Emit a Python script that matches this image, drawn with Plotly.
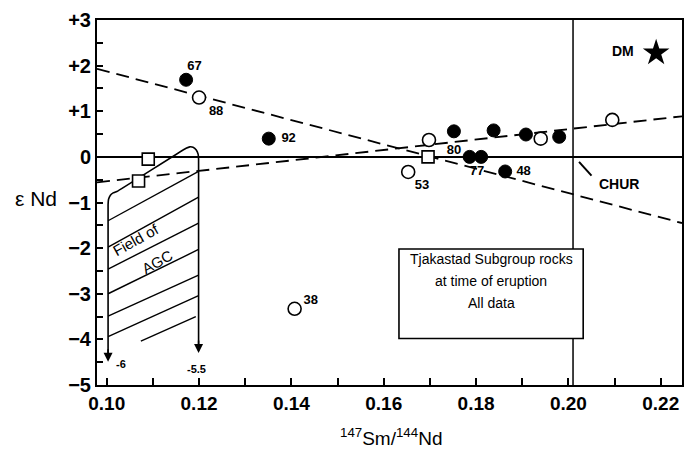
import plotly.graph_objects as go

# --- sample data: epsilon Nd vs 147Sm/144Nd ---
filled_x = [0.1172, 0.1351, 0.1752, 0.1786, 0.1811, 0.1838, 0.1863, 0.1908, 0.1980]
filled_y = [1.69, 0.40, 0.56, 0.00, 0.00, 0.58, -0.32, 0.49, 0.44]

open_x = [0.1200, 0.1407, 0.1653, 0.1698, 0.1940, 0.2095]
open_y = [1.30, -3.33, -0.33, 0.37, 0.40, 0.81]

square_x = [0.1069, 0.1090, 0.1696]
square_y = [-0.53, -0.05, 0.00]

dm_x = [0.2190]
dm_y = [2.28]

# sample numbers next to points
label_text = ["67", "88", "92", "80", "53", "77", "48", "38"]
label_x = [0.1190, 0.1237, 0.1394, 0.1752, 0.1683, 0.1802, 0.1903, 0.1442]
label_y = [1.97, 1.00, 0.40, 0.13, -0.64, -0.32, -0.32, -3.15]

# dashed reference lines
trend_down_x = [0.0979, 0.2246]
trend_down_y = [1.93, -1.45]
trend_up_x = [0.0979, 0.2246]
trend_up_y = [-0.56, 0.89]

# CHUR vertical reference
chur_sm_nd = 0.201

# field of AGC outline
agc_x = [0.1003, 0.1003, 0.1004, 0.1008, 0.1014, 0.1022, 0.1172, 0.1180,
         0.1187, 0.1194, 0.1198, 0.1199, 0.1199]
agc_y = [-4.40, -1.05, -0.93, -0.84, -0.79, -0.76, 0.19, 0.22,
         0.21, 0.15, 0.06, -0.05, -4.22]
# hatching inside the field
hatch_x0 = [0.1003, 0.1003, 0.1003, 0.1003, 0.1003, 0.1003, 0.1074]
hatch_y0 = [-1.40, -1.98, -2.46, -3.00, -3.49, -3.94, -4.04]
hatch_x1 = [0.1199, 0.1199, 0.1199, 0.1199, 0.1199, 0.1199, 0.1193]
hatch_y1 = [-0.32, -0.88, -1.45, -2.03, -2.59, -3.04, -3.50]

# axis ticks
x_ticks = [0.10, 0.11, 0.12, 0.13, 0.14, 0.15, 0.16, 0.17, 0.18, 0.19, 0.20, 0.21, 0.22]
x_ticktext = ["0.10", "", "0.12", "", "0.14", "", "0.16", "", "0.18", "", "0.20", "", "0.22"]
y_ticks = [-5, -4.5, -4, -3.5, -3, -2.5, -2, -1.5, -1, -0.5, 0, 0.5, 1, 1.5, 2, 2.5, 3]
y_ticktext = ["\u22125", "", "\u22124", "", "\u22123", "", "\u22122", "", "\u22121", "",
              "0", "", "+1", "", "+2", "", "+3"]

FONT = "Liberation Sans, Arial, sans-serif"
BLACK = "black"


def txt(size, bold=False):
    return dict(family=FONT, size=size, color=BLACK, weight="bold" if bold else "normal")


fig = go.Figure()

# field of AGC
fig.add_trace(go.Scatter(x=agc_x, y=agc_y, mode="lines",
                         line=dict(color=BLACK, width=1.6, shape="spline", smoothing=0.3),
                         hoverinfo="skip"))
for xa, ya, xb, yb in zip(hatch_x0, hatch_y0, hatch_x1, hatch_y1):
    fig.add_trace(go.Scatter(x=[xa, xb], y=[ya, yb], mode="lines",
                             line=dict(color=BLACK, width=1.4), hoverinfo="skip"))

# dashed lines
fig.add_trace(go.Scatter(x=trend_down_x, y=trend_down_y, mode="lines",
                         line=dict(color=BLACK, width=1.8, dash="13px,7px")))
fig.add_trace(go.Scatter(x=trend_up_x, y=trend_up_y, mode="lines",
                         line=dict(color=BLACK, width=1.8, dash="13px,7px")))

# CHUR pointer
fig.add_trace(go.Scatter(x=[0.2023, 0.2050], y=[-0.11, -0.41], mode="lines",
                         line=dict(color=BLACK, width=2)))

# symbols
fig.add_trace(go.Scatter(x=square_x, y=square_y, mode="markers",
                         marker=dict(symbol="square", size=12, color="white",
                                     line=dict(color=BLACK, width=1.6))))
fig.add_trace(go.Scatter(x=open_x, y=open_y, mode="markers",
                         marker=dict(symbol="circle", size=13, color="white",
                                     line=dict(color=BLACK, width=1.6))))
fig.add_trace(go.Scatter(x=filled_x, y=filled_y, mode="markers",
                         marker=dict(symbol="circle", size=13, color=BLACK,
                                     line=dict(color=BLACK, width=1))))
fig.add_trace(go.Scatter(x=dm_x, y=dm_y, mode="markers",
                         marker=dict(symbol="star", size=20, color=BLACK)))

# sample labels
fig.add_trace(go.Scatter(x=label_x, y=label_y, mode="text", text=label_text,
                         textfont=txt(13, True)))

shapes = [
    # zero line
    dict(type="line", xref="paper", yref="y", x0=0, x1=1, y0=0, y1=0,
         line=dict(color=BLACK, width=2), layer="below"),
    # CHUR Sm/Nd vertical
    dict(type="line", xref="x", yref="paper", x0=chur_sm_nd, x1=chur_sm_nd, y0=0, y1=1,
         line=dict(color=BLACK, width=1.5), layer="below"),
    # caption box
    dict(type="rect", xref="x", yref="y", x0=0.1633, x1=0.2032, y0=-3.98, y1=-2.02,
         fillcolor="white", line=dict(color=BLACK, width=1.6), layer="above"),
]

box_cx = (0.1633 + 0.2032) / 2
annotations = [
    dict(x=box_cx, y=-2.24, text="Tjakastad Subgroup rocks", showarrow=False, font=txt(14)),
    dict(x=box_cx, y=-2.72, text="at time of eruption", showarrow=False, font=txt(14)),
    dict(x=box_cx, y=-3.20, text="All data", showarrow=False, font=txt(14)),
    dict(x=0.2119, y=2.32, text="DM", showarrow=False, font=txt(14, True)),
    dict(x=0.2110, y=-0.60, text="CHUR", showarrow=False, font=txt(14, True)),
    dict(x=0.1064, y=-1.82, text="Field of", showarrow=False, textangle=-29, font=txt(15)),
    dict(x=0.1111, y=-2.30, text="AGC", showarrow=False, textangle=-29, font=txt(15)),
    dict(x=0.1032, y=-4.55, text="-6", showarrow=False, font=txt(11, True)),
    dict(x=0.1194, y=-4.64, text="-5.5", showarrow=False, font=txt(11, True)),
    # arrowheads at the bottom of the AGC field
    dict(x=0.1003, y=-4.49, ax=0, ay=-14, text="", showarrow=True,
         arrowhead=2, arrowsize=1.2, arrowwidth=1.5, arrowcolor=BLACK),
    dict(x=0.1199, y=-4.30, ax=0, ay=-14, text="", showarrow=True,
         arrowhead=2, arrowsize=1.2, arrowwidth=1.5, arrowcolor=BLACK),
    # axis titles
    dict(xref="paper", yref="paper", x=0.503, y=-0.142, xanchor="center", yanchor="middle",
         text="<sup>147</sup>Sm/<sup>144</sup>Nd", showarrow=False, font=txt(19)),
    dict(xref="paper", yref="paper", x=-0.104, y=0.512, xanchor="center", yanchor="middle",
         text="\u03b5 Nd", showarrow=False, font=txt(21)),
]

fig.update_layout(
    width=691, height=450,
    margin=dict(l=97, r=7, t=20, b=65),
    paper_bgcolor="white", plot_bgcolor="white",
    showlegend=False,
    shapes=shapes, annotations=annotations,
    xaxis=dict(range=[0.0979, 0.2246], tickmode="array", tickvals=x_ticks, ticktext=x_ticktext,
               ticks="inside", ticklen=7, tickwidth=1.5, tickcolor=BLACK,
               showline=True, linewidth=2, linecolor=BLACK, mirror=True,
               showgrid=False, zeroline=False, ticklabelstandoff=0,
               tickfont=txt(19, True)),
    yaxis=dict(range=[-5, 3], tickmode="array", tickvals=y_ticks, ticktext=y_ticktext,
               ticks="inside", ticklen=6, tickwidth=1.5, tickcolor=BLACK,
               showline=True, linewidth=2, linecolor=BLACK, mirror=True,
               showgrid=False, zeroline=False, ticklabelstandoff=0,
               tickfont=txt(20, True)),
)

fig.write_html("out.html")
